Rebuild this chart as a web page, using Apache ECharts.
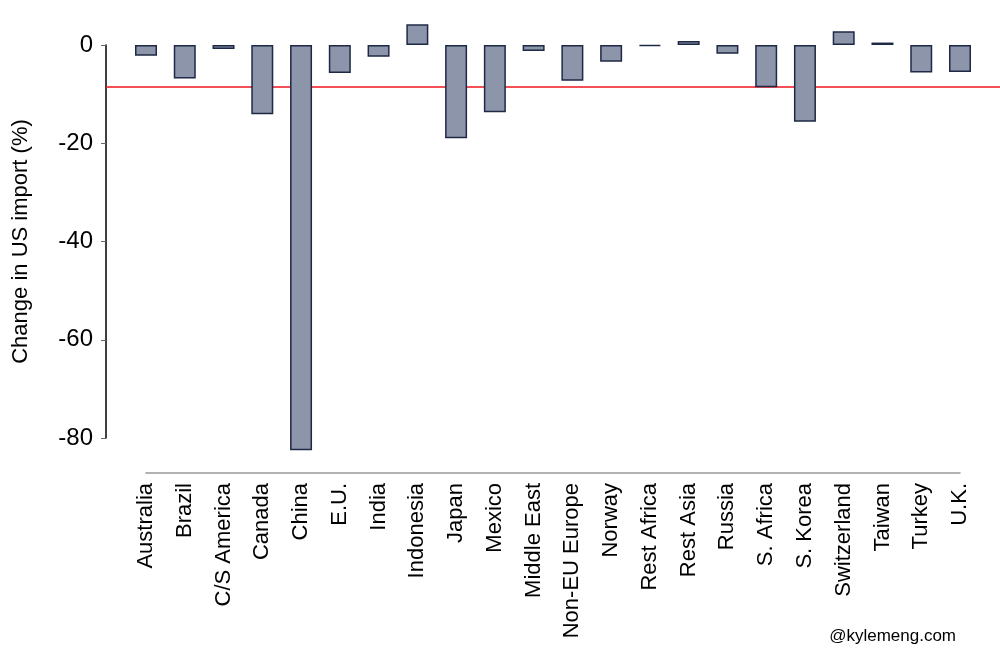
<!DOCTYPE html>
<html>
<head>
<meta charset="utf-8">
<script src="https://cdn.jsdelivr.net/npm/echarts@6/dist/echarts.min.js"></script>
<style>html,body{margin:0;padding:0;background:#fff}#c{width:1000px;height:667px}</style>
</head>
<body>
<div id="c"></div>
<script>
var categories = ['Australia','Brazil','C/S America','Canada','China','E.U.','India','Indonesia','Japan','Mexico','Middle East','Non-EU Europe','Norway','Rest Africa','Rest Asia','Russia','S. Africa','S. Korea','Switzerland','Taiwan','Turkey','U.K.'];
var values = [-2.2,-6.8,-0.8,-14.1,-82.5,-5.7,-2.4,4.2,-19.0,-13.7,-1.2,-7.3,-3.4,-0.2,0.8,-1.8,-8.6,-15.6,2.8,0.5,-5.6,-5.5];
var referenceLine = -8.55;
var yTicks = {min: -80, max: 0, interval: 20};

var font = '"Liberation Sans", Arial, Helvetica, sans-serif';
var chart = echarts.init(document.getElementById('c'), null, {renderer: 'canvas'});
chart.setOption({
  animation: false,
  backgroundColor: '#fff',
  grid: [
    {left: 146, right: 40, top: 45, bottom: 229},
    {left: 106, right: 0, top: 45, bottom: 229}
  ],
  xAxis: [
    {
      type: 'category', gridIndex: 0, data: categories, boundaryGap: false,
      offset: 35,
      axisLine: {show: true, onZero: false, lineStyle: {color: '#999', width: 1.5}},
      axisTick: {show: false},
      axisLabel: {rotate: 90, margin: 10, fontSize: 22, color: '#000', fontFamily: font, interval: 0},
      splitLine: {show: false}
    },
    {type: 'value', gridIndex: 1, min: 0, max: 1, show: false}
  ],
  yAxis: [
    {
      type: 'value', gridIndex: 0, min: yTicks.min, max: yTicks.max, interval: yTicks.interval,
      offset: 40,
      name: 'Change in US import (%)', nameLocation: 'middle', nameGap: 74,
      nameTextStyle: {fontSize: 22, color: '#000', fontFamily: font},
      axisLine: {show: true, lineStyle: {color: '#000', width: 1.5}},
      axisTick: {show: true, length: 5, lineStyle: {color: '#666'}},
      axisLabel: {fontSize: 24, color: '#000', fontFamily: font, margin: 13},
      splitLine: {show: false}
    },
    {type: 'value', gridIndex: 1, min: yTicks.min, max: yTicks.max, show: false}
  ],
  series: [
    {
      type: 'line', xAxisIndex: 1, yAxisIndex: 1, z: 1,
      data: [[0, referenceLine], [1, referenceLine]],
      symbol: 'none', lineStyle: {color: '#f0141e', width: 1.5}, silent: true
    },
    {
      type: 'bar', xAxisIndex: 0, yAxisIndex: 0, z: 5, clip: false,
      data: values, barWidth: 22,
      itemStyle: {color: '#8d95aa', borderColor: '#1e2945', borderWidth: 1.5}
    }
  ],
  graphic: [
    {type: 'text', right: 44, top: 628, style: {text: '@kylemeng.com', fontSize: 17, fill: '#000', fontFamily: font}}
  ]
});
</script>
</body>
</html>
